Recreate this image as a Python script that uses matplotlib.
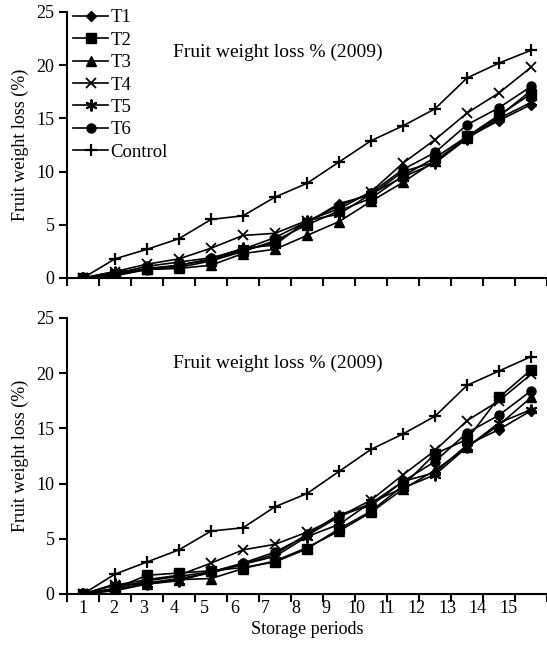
import matplotlib
matplotlib.use('Agg')
import matplotlib.pyplot as plt
import numpy as np

plt.rcParams['font.family'] = ['Liberation Serif', 'DejaVu Serif']
plt.rcParams['font.size'] = 13

periods = list(range(1, 16))
seriesNames = ['T1', 'T2', 'T3', 'T4', 'T5', 'T6', 'Control']

# top panel
topT1 = [0, 0.3, 0.9, 1.2, 1.7, 2.6, 3.3, 5.2, 7.0, 7.8, 10.0, 10.9, 13.2, 14.8, 16.3]
topT2 = [0, 0.3, 0.8, 1.0, 1.6, 2.5, 3.5, 5.0, 6.3, 7.5, 9.6, 11.3, 13.3, 15.3, 17.3]
topT3 = [0, 0.2, 0.8, 0.9, 1.2, 2.3, 2.7, 4.0, 5.3, 7.2, 9.0, 11.0, 13.2, 15.2, 17.6]
topT4 = [0, 0.6, 1.3, 1.8, 2.8, 4.0, 4.2, 5.4, 6.5, 8.1, 10.8, 13.0, 15.5, 17.4, 19.8]
topT5 = [0, 0.6, 0.8, 1.2, 1.8, 2.8, 3.1, 5.4, 6.0, 7.9, 9.5, 10.8, 13.1, 15.0, 16.5]
topT6 = [0, 0.4, 1.1, 1.5, 1.9, 2.7, 3.8, 5.3, 6.8, 8.0, 10.2, 11.8, 14.4, 16.0, 18.0]
topControl = [0, 1.8, 2.7, 3.7, 5.5, 5.85, 7.6, 8.9, 10.9, 12.9, 14.3, 15.9, 18.8, 20.2, 21.4]

# bottom panel
botT1 = [0, 0.4, 1.0, 1.4, 1.9, 2.7, 3.6, 5.4, 7.2, 8.0, 10.2, 11.0, 13.5, 14.9, 16.6]
botT2 = [0, 0.5, 1.7, 1.9, 2.1, 2.4, 2.9, 4.1, 5.9, 7.5, 9.8, 12.7, 14.0, 17.8, 20.3]
botT3 = [0, 0.3, 0.9, 1.3, 1.4, 2.3, 3.0, 4.2, 5.7, 7.4, 9.5, 11.2, 13.3, 15.3, 17.8]
botT4 = [0, 0.8, 1.3, 1.7, 2.8, 4.0, 4.5, 5.6, 7.0, 8.5, 10.8, 13.0, 15.7, 17.5, 19.9]
botT5 = [0, 0.9, 0.9, 1.2, 2.0, 2.7, 3.4, 5.2, 6.3, 8.3, 9.6, 10.8, 13.3, 15.5, 16.7]
botT6 = [0, 0.5, 1.2, 1.6, 2.0, 2.8, 3.8, 5.3, 7.0, 8.2, 10.2, 12.0, 14.6, 16.2, 18.4]
botControl = [0, 1.8, 2.9, 4.0, 5.7, 6.0, 7.9, 9.1, 11.1, 13.1, 14.5, 16.1, 18.9, 20.2, 21.5]

panelTitle = 'Fruit weight loss % (2009)'
yLabel = 'Fruit weight loss (%)'
xLabel = 'Storage periods'

markers = {'T1': dict(marker='D', ms=5.5),
           'T2': dict(marker='s', ms=6.5),
           'T3': dict(marker='^', ms=7.5),
           'T4': dict(marker='x', ms=7.5, mew=1.3),
           'T5': dict(marker=(6, 2, 0), ms=8.5, mew=1.4),
           'T6': dict(marker='o', ms=6.5),
           'Control': dict(marker='+', ms=8.5, mew=1.6)}


def drawPanel(ax, data, showLegend, showXLabels, titleY):
    for name, vals in zip(seriesNames, data):
        ax.plot(periods, vals, color='black', lw=1.2, label=name, **markers[name])
    ax.set_xlim(0.5, 15.5)
    ax.set_ylim(0, 25)
    ax.set_yticks([0, 5, 10, 15, 20, 25])
    ax.spines['top'].set_visible(False)
    ax.spines['right'].set_visible(False)
    for s in ['left', 'bottom']:
        ax.spines[s].set_linewidth(1.5)
    ax.tick_params(axis='y', direction='out', length=6, width=1.5, pad=3)
    # category boundaries as ticks
    ax.set_xticks(np.arange(0.5, 15.6, 1.0), minor=True)
    ax.tick_params(axis='x', which='minor', direction='out', length=6, width=1.5)
    if showXLabels:
        # labels are drawn a little compressed in the original
        labelPos = [1 + (p - 1) * (30.36 / 32.0) for p in periods]
        ax.set_xticks(labelPos)
        ax.set_xticklabels([str(p) for p in periods])
        ax.tick_params(axis='x', which='major', length=0, pad=4)
        ax.set_xlabel(xLabel, labelpad=3)
    else:
        ax.set_xticks([])
    ax.set_ylabel(yLabel, labelpad=5)
    ax.text(0.22, titleY, panelTitle, transform=ax.transAxes, ha='left', va='center',
            fontsize=14)
    if showLegend:
        ax.legend(loc='upper left', bbox_to_anchor=(0.012, 1.01), frameon=False,
                  fontsize=13.5, handlelength=1.9, handletextpad=0.1, labelspacing=0.28,
                  borderaxespad=0, borderpad=0)


fig = plt.figure(figsize=(5.47, 6.49), dpi=100)
axTop = fig.add_axes([67 / 547, 1 - 278 / 649, 480 / 547, 266 / 649])
axBot = fig.add_axes([67 / 547, 1 - 594 / 649, 480 / 547, 276 / 649])

drawPanel(axTop, [topT1, topT2, topT3, topT4, topT5, topT6, topControl], True, False, 0.85)
drawPanel(axBot, [botT1, botT2, botT3, botT4, botT5, botT6, botControl], False, True, 0.837)

fig.savefig('out.png', dpi=100)
